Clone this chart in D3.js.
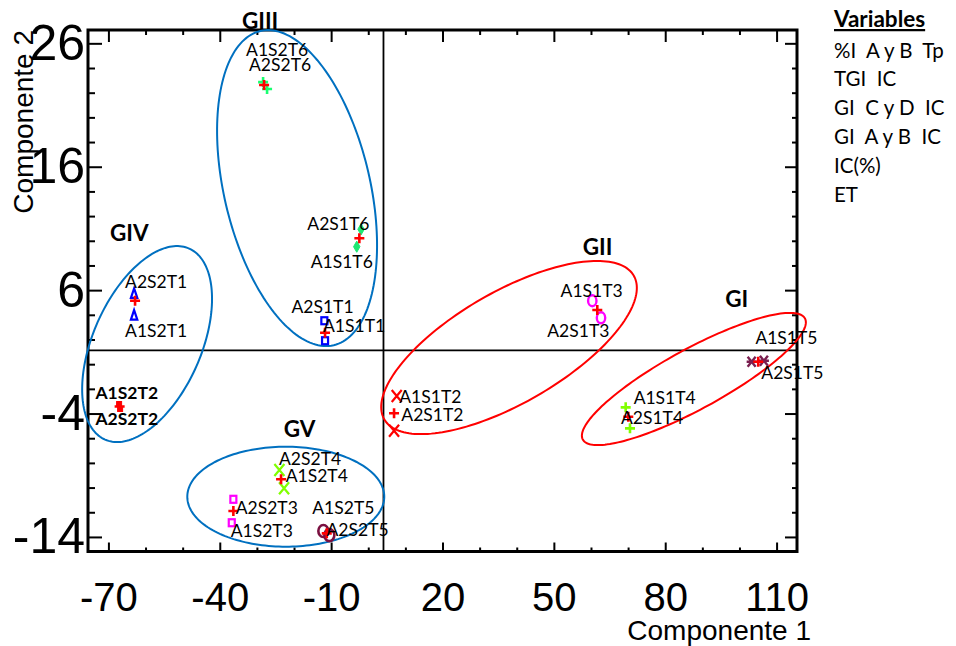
<!DOCTYPE html>
<html>
<head>
<meta charset="utf-8">
<script src="https://cdn.jsdelivr.net/npm/d3@7"></script>
<style>
  html, body { margin: 0; padding: 0; background: #fff; }
  svg { display: block; }
</style>
</head>
<body>
<svg id="chart" width="956" height="646"></svg>
<script>
// Treatments: each one measured in two replicates (A1, A2) plus their mean point
const samples   = ["S2T6", "S1T6", "S1T1", "S2T1", "S2T2", "S2T4", "S2T3", "S2T5", "S1T3", "S1T2", "S1T4", "S1T5"];
const a1Comp1   = [-28.33,  -3.10, -11.64, -63.08, -67.12, -22.68, -36.77, -12.10,  60.35,   7.67,  69.35, 103.28];
const a1Comp2   = [ 22.86,   9.52,   1.90,   3.98,  -3.23, -10.06, -12.85, -13.52,   5.14,  -2.58,  -3.50,   0.20];
const a2Comp1   = [-27.26,  -1.94, -11.83, -63.08, -66.85, -23.94, -36.34, -10.48,  62.70,   6.95,  70.51, 106.59];
const a2Comp2   = [ 22.30,  10.93,   3.52,   5.74,  -3.63,  -8.58, -10.95, -13.85,   3.76,  -5.39,  -5.20,   0.28];
const meanComp1 = [-28.06,  -2.40, -11.64, -62.82, -66.98, -23.49, -36.34, -11.18,  61.70,   6.95,  70.05, 105.06];
const meanComp2 = [ 22.62,  10.20,   2.55,   5.14,  -3.43,  -9.33, -11.90, -13.71,   4.39,  -3.98,  -4.26,   0.20];

// Axis ticks
const xTickValues = [-70, -40, -10, 20, 50, 80, 110];
const yTickValues = [26, 16, 6, -4, -14];
const xMinorTicks = d3.range(-70, 111, 10);
const yMinorTicks = d3.range(-14, 27, 2);
const xDomain = [-75.5, 115.5];
const yDomain = [-15.18, 27.08];

// Reference lines crossing the plot
const crossComp1 = 4.1;
const crossComp2 = 1.12;

// Variables listed at the right
const variables = ["%I  A y B  Tp", "TGI  IC", "GI  C y D  IC", "GI  A y B  IC", "IC(%)", "ET"];

// Groups: label anchor and ellipse (centre + two conjugate semi-axes) in component units
const groupNames  = ["GI", "GII", "GIII", "GIV", "GV"];
const groupLabelX = [99.24, 61.75, -29.14, -64.40, -18.50];
const groupLabelY = [ 5.28,  9.52,  27.82,  10.63,  -5.26];
const ellCx  = [ 87.72,  37.92, -19.18, -59.58, -22.22];
const ellCy  = [ -1.20,   1.35,  14.27,   1.63, -10.74];
const ellUx  = [ 29.92,  33.61,   9.88,  11.33,  26.53];
const ellUy  = [  4.91,   5.82, -12.73,   7.74,   0.00];
const ellVx  = [  3.88,   7.49,  19.15,  13.33,   0.00];
const ellVy  = [ -2.14,  -3.92,   1.345, -1.77,  -4.05];

// ---------- styling ----------
const groupColor = { GI: "#ff0000", GII: "#ff0000", GIII: "#0070c0", GIV: "#0070c0", GV: "#0070c0" };
const markerStyle = {
  S2T6: { shape: "plus",     color: "#19ff70" },
  S1T6: { shape: "diamond",  color: "#1ee872" },
  S1T1: { shape: "square",   color: "#0000ff" },
  S2T1: { shape: "triangle", color: "#0000ff" },
  S2T2: { shape: "dot",      color: "#ff0000" },
  S2T4: { shape: "cross",    color: "#80ff00" },
  S2T3: { shape: "square",   color: "#ff00ff" },
  S2T5: { shape: "circle",   color: "#7a1040" },
  S1T3: { shape: "oval",     color: "#ff00ff" },
  S1T2: { shape: "cross",    color: "#ff0000" },
  S1T4: { shape: "plus",     color: "#80ff00" },
  S1T5: { shape: "star",     color: "#7a1f50" }
};
// label centre offsets (px) from each replicate point
const labelOffset = {
  S2T6: [[14, -32], [13, -24.5]],
  S1T6: [[-15, 15], [-22.7, -5.3]],
  S1T1: [[29, -14.7], [-1.8, -14]],
  S2T1: [[22, 15.7], [22, -11.6]],
  S2T2: [[7.7, -11], [6.7, 10]],
  S2T4: [[32.7, -12.6], [30.7, -11]],
  S2T3: [[30, 8.3], [33.4, 8.4]],
  S2T5: [[20, -23.3], [28.2, -5.5]],
  S1T3: [[-0.6, -9.7], [-22.7, 12.6]],
  S1T2: [[33.6, 0.3], [38.3, -16.2]],
  S1T4: [[39, -10], [22, -10.5]],
  S1T5: [[34.8, -23.7], [28.5, 12.3]]
};

const plot = { left: 88, right: 797, top: 30, bottom: 551.5 };
const svg = d3.select("#chart");

const x = d3.scaleLinear().domain(xDomain).range([plot.left, plot.right]);
const y = d3.scaleLinear().domain(yDomain).range([plot.bottom, plot.top]);

const annotFont = "Lato, 'Open Sans', sans-serif";
const axisFont = "'Liberation Sans', Arial, sans-serif";
const plainNumber = d => String(d);   // ASCII hyphen for negatives

// ---------- axes: ticks pointing into the plot ----------
function tickAxis(axisGen, transform, values, size) {
  svg.append("g").attr("transform", transform)
    .call(axisGen.tickValues(values).tickSize(size).tickFormat(""))
    .call(g => g.select(".domain").remove())
    .call(g => g.selectAll("line").attr("stroke", "#000").attr("stroke-width", 2));
}
const xMinorOnly = xMinorTicks.filter(v => !xTickValues.includes(v));
const yMinorOnly = yMinorTicks.filter(v => !yTickValues.includes(v));
tickAxis(d3.axisBottom(x), `translate(0,${plot.bottom})`, xMinorOnly, -4);
tickAxis(d3.axisBottom(x), `translate(0,${plot.bottom})`, xTickValues, -9);
tickAxis(d3.axisTop(x), `translate(0,${plot.top})`, xMinorOnly, -5);
tickAxis(d3.axisTop(x), `translate(0,${plot.top})`, xTickValues, -12);
tickAxis(d3.axisLeft(y), `translate(${plot.left},0)`, yMinorOnly, -7);
tickAxis(d3.axisLeft(y), `translate(${plot.left},0)`, yTickValues, -14);
tickAxis(d3.axisRight(y), `translate(${plot.right},0)`, yMinorOnly, -5);
tickAxis(d3.axisRight(y), `translate(${plot.right},0)`, yTickValues, -12);

// tick labels
svg.append("g").attr("transform", `translate(0,${plot.bottom})`)
  .call(d3.axisBottom(x).tickValues(xTickValues).tickSize(0).tickPadding(31).tickFormat(plainNumber))
  .call(g => g.select(".domain").remove())
  .call(g => g.selectAll("text").attr("font-family", axisFont).attr("font-size", 40).attr("fill", "#000"));
svg.append("g").attr("transform", `translate(${plot.left},0)`)
  .call(d3.axisLeft(y).tickValues(yTickValues).tickSize(0).tickPadding(3).tickFormat(plainNumber))
  .call(g => g.select(".domain").remove())
  .call(g => g.selectAll("text").attr("font-family", axisFont).attr("font-size", 50).attr("fill", "#000"));

// frame
svg.append("rect")
  .attr("x", plot.left).attr("y", plot.top)
  .attr("width", plot.right - plot.left).attr("height", plot.bottom - plot.top)
  .attr("fill", "none").attr("stroke", "#000").attr("stroke-width", 3);

// crossing reference lines
svg.append("line")
  .attr("x1", x(crossComp1)).attr("x2", x(crossComp1))
  .attr("y1", plot.top).attr("y2", plot.bottom)
  .attr("stroke", "#000").attr("stroke-width", 1.8);
svg.append("line")
  .attr("x1", plot.left).attr("x2", plot.right)
  .attr("y1", y(crossComp2)).attr("y2", y(crossComp2))
  .attr("stroke", "#000").attr("stroke-width", 1.8);

// axis titles
svg.append("text")
  .attr("x", 811).attr("y", 640).attr("text-anchor", "end")
  .attr("font-family", axisFont).attr("font-size", 28).text("Componente 1");
svg.append("text")
  .attr("transform", "translate(33,30) rotate(-90)").attr("text-anchor", "end")
  .attr("font-family", axisFont).attr("font-size", 28).text("Componente 2");

// ---------- group ellipses ----------
const ellLine = d3.line().curve(d3.curveLinearClosed);
groupNames.forEach((g, i) => {
  const pts = d3.range(0, 2 * Math.PI, Math.PI / 90).map(t => [
    x(ellCx[i] + Math.cos(t) * ellUx[i] + Math.sin(t) * ellVx[i]),
    y(ellCy[i] + Math.cos(t) * ellUy[i] + Math.sin(t) * ellVy[i])
  ]);
  svg.append("path").attr("d", ellLine(pts))
    .attr("fill", "none").attr("stroke", groupColor[g]).attr("stroke-width", 2);
  svg.append("text")
    .attr("x", x(groupLabelX[i])).attr("y", y(groupLabelY[i])).attr("dy", "0.36em")
    .attr("text-anchor", "middle").attr("font-family", annotFont)
    .attr("font-weight", 700).attr("font-size", 22.5).text(g);
});

// ---------- markers ----------
function drawMarker(gSel, shape, color) {
  const sw = 2.2;
  switch (shape) {
    case "plus":
      gSel.append("path").attr("d", "M-5,0H5M0,-5V5").attr("stroke", color).attr("stroke-width", 2.6).attr("fill", "none");
      break;
    case "cross":
      gSel.append("path").attr("d", "M-5,-6L5,6M5,-6L-5,6").attr("stroke", color).attr("stroke-width", sw).attr("fill", "none");
      break;
    case "diamond":
      gSel.append("path").attr("d", d3.symbol(d3.symbolDiamond, 36)()).attr("fill", color).attr("stroke", color).attr("stroke-width", 1);
      break;
    case "square":
      gSel.append("rect").attr("x", -3).attr("y", -3.5).attr("width", 6).attr("height", 7)
        .attr("fill", "none").attr("stroke", color).attr("stroke-width", sw);
      break;
    case "dot":
      gSel.append("rect").attr("x", -2.5).attr("y", -2.5).attr("width", 5).attr("height", 5)
        .attr("fill", color).attr("stroke", color).attr("stroke-width", 1);
      break;
    case "triangle":
      gSel.append("path").attr("d", "M0,-5L3.2,4.5H-3.2Z").attr("fill", "none").attr("stroke", color).attr("stroke-width", sw);
      break;
    case "circle":
      gSel.append("ellipse").attr("rx", 5).attr("ry", 6).attr("fill", "none").attr("stroke", color).attr("stroke-width", 2.6);
      break;
    case "oval":
      gSel.append("ellipse").attr("rx", 4.2).attr("ry", 5.5).attr("fill", "none").attr("stroke", color).attr("stroke-width", 2.4);
      break;
    case "star":
      gSel.append("path").attr("d", "M-5,0H5M-4,-5L4,5M4,-5L-4,5").attr("stroke", color).attr("stroke-width", 2.4).attr("fill", "none");
      break;
  }
}

const pointLayer = svg.append("g");
samples.forEach((s, i) => {
  const st = markerStyle[s];
  const reps = [
    { name: "A1" + s, cx: x(a1Comp1[i]), cy: y(a1Comp2[i]), off: labelOffset[s][0] },
    { name: "A2" + s, cx: x(a2Comp1[i]), cy: y(a2Comp2[i]), off: labelOffset[s][1] }
  ];
  reps.forEach(r => {
    drawMarker(pointLayer.append("g").attr("transform", `translate(${r.cx},${r.cy})`), st.shape, st.color);
  });
  // mean of the two replicates
  drawMarker(pointLayer.append("g").attr("transform", `translate(${x(meanComp1[i])},${y(meanComp2[i])})`), "plus", "#ff0000");
  reps.forEach(r => {
    svg.append("text")
      .attr("x", r.cx + r.off[0]).attr("y", r.cy + r.off[1]).attr("dy", "0.36em")
      .attr("text-anchor", "middle").attr("font-family", annotFont)
      .attr("font-size", 17.5).attr("font-weight", s === "S2T2" ? 700 : 400)
      .attr("fill", "#000").text(r.name);
  });
});

// ---------- variables list ----------
const legend = svg.append("g").attr("transform", "translate(834,0)");
legend.append("text").attr("x", 0).attr("y", 27)
  .attr("font-family", annotFont).attr("font-size", 22.5).attr("font-weight", 700)
  .attr("text-decoration", "underline").text("Variables");
legend.selectAll("text.var").data(variables).join("text")
  .attr("class", "var")
  .attr("x", 0).attr("y", (d, i) => 57.5 + i * 28.8)
  .attr("font-family", annotFont).attr("font-size", 20.5)
  .style("white-space", "pre").text(d => d);
</script>
</body>
</html>
